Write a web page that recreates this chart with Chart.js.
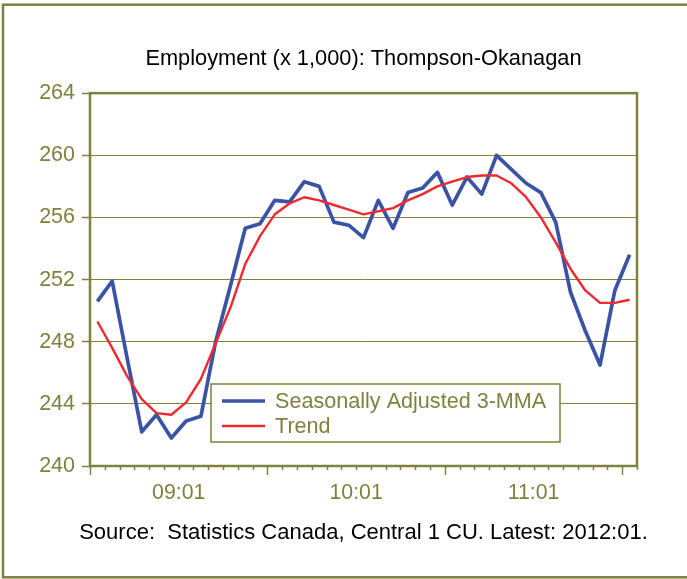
<!DOCTYPE html>
<html>
<head>
<meta charset="utf-8">
<script src="https://cdn.jsdelivr.net/npm/chart.js@4.4.1/dist/chart.umd.min.js"></script>
<style>
  html, body { margin: 0; padding: 0; background: #fff; }
  #wrap { width: 687px; height: 579px; }
</style>
</head>
<body>
<div id="wrap"><canvas id="chart" width="687" height="579"></canvas></div>
<script>
// Meses (categorías) y series
const months = [
    '09:01', '09:02', '09:03', '09:04', '09:05', '09:06', '09:07', '09:08', '09:09', '09:10', '09:11', '09:12',
    '10:01', '10:02', '10:03', '10:04', '10:05', '10:06', '10:07', '10:08', '10:09', '10:10', '10:11', '10:12',
    '11:01', '11:02', '11:03', '11:04', '11:05', '11:06', '11:07', '11:08', '11:09', '11:10', '11:11', '11:12',
    '12:01'
];
const yearLabels = ['09:01', '10:01', '11:01'];

const seasAdj3mma = [250.6, 251.9, 247.0, 242.2, 243.3, 241.8, 242.9, 243.2, 248.0, 251.6, 255.3, 255.6,
    257.1, 257.0, 258.3, 258.0, 255.7, 255.5, 254.7, 257.1, 255.3, 257.6, 257.9, 258.9,
    256.8, 258.6, 257.5, 260.0, 259.1, 258.2, 257.6, 255.7, 251.2, 248.7, 246.5, 251.3,
    253.6];
const trend = [249.3, 247.6, 245.8, 244.3, 243.4, 243.3, 244.1, 245.6, 247.9, 250.2, 253.0, 254.8,
    256.2, 256.9, 257.3, 257.1, 256.8, 256.5, 256.2, 256.4, 256.6, 257.1, 257.5, 258.0,
    258.3, 258.6, 258.7, 258.7, 258.2, 257.3, 256.0, 254.4, 252.7, 251.3, 250.5, 250.5,
    250.7];

const yMin = 240, yMax = 264, yStep = 4;

const footerText = 'Source:  Statistics Canada, Central 1 CU. Latest: 2012:01.';

const OLIVE = '#80803f';
const FONT = "'Liberation Sans', Arial, sans-serif";

function toPoints(arr) {
    return arr.map(function(v, i) { return { x: i, y: v }; });
}

// Marco exterior, borde del área de trazado, marcas del eje X, leyenda y fuente
const framePlugin = {
    id: 'frame',
    beforeDraw: function(chart) {
        const ctx = chart.ctx;
        ctx.save();
        ctx.strokeStyle = OLIVE;
        ctx.lineWidth = 2.5;
        ctx.strokeRect(3, 4.7, 720, 572.6);
        ctx.restore();
    },
    afterDraw: function(chart) {
        const ctx = chart.ctx;
        const ca = chart.chartArea;
        const xs = chart.scales.x;
        ctx.save();
        // marcas del eje X (una por mes, largas cada año)
        ctx.strokeStyle = OLIVE;
        ctx.lineWidth = 1.5;
        for (let k = 0; k <= months.length; k++) {
            const px = Math.round(xs.getPixelForValue(k - 0.5)) + 0.5;
            const len = (k % 12 === 0) ? 9 : 4;
            ctx.beginPath();
            ctx.moveTo(px, ca.bottom);
            ctx.lineTo(px, ca.bottom + len);
            ctx.stroke();
        }
        // borde del área
        ctx.lineWidth = 2.5;
        ctx.strokeRect(ca.left, ca.top, ca.right - ca.left, ca.bottom - ca.top);

        // leyenda
        const bx = ca.left + 121, by = ca.bottom - 82, bw = 349, bh = 58;
        ctx.fillStyle = '#fff';
        ctx.fillRect(bx, by, bw, bh);
        ctx.lineWidth = 1.5;
        ctx.strokeRect(bx, by, bw, bh);
        ctx.font = '21.6px ' + FONT;
        ctx.textBaseline = 'middle';
        chart.data.datasets.forEach(function(ds, i) {
            const ly = by + 17 + i * 25;
            ctx.strokeStyle = ds.borderColor;
            ctx.lineWidth = ds.borderWidth;
            ctx.beginPath();
            ctx.moveTo(bx + 11, ly);
            ctx.lineTo(bx + 54, ly);
            ctx.stroke();
            ctx.fillStyle = OLIVE;
            ctx.fillText(ds.label, bx + 64, ly + 1);
        });

        // fuente
        ctx.fillStyle = '#000';
        ctx.font = '22px ' + FONT;
        ctx.textAlign = 'center';
        ctx.fillText(footerText, (ca.left + ca.right) / 2, ca.bottom + 67);
        ctx.restore();
    }
};

new Chart(document.getElementById('chart'), {
    type: 'line',
    data: {
        datasets: [{
            label: 'Seasonally Adjusted 3-MMA',
            data: toPoints(seasAdj3mma),
            borderColor: '#3a53a4',
            borderWidth: 3.7,
            pointRadius: 0,
            tension: 0,
            borderJoinStyle: 'round',
            order: 1
        }, {
            label: 'Trend',
            data: toPoints(trend),
            borderColor: '#ef2a2e',
            borderWidth: 2.4,
            pointRadius: 0,
            tension: 0,
            borderJoinStyle: 'round',
            order: 0
        }]
    },
    options: {
        responsive: false,
        animation: false,
        layout: { padding: { top: 46, right: 50, bottom: 60, left: 0 } },
        plugins: {
            legend: { display: false },
            tooltip: { enabled: false },
            title: {
                display: true,
                text: 'Employment (x 1,000): Thompson-Okanagan',
                color: '#000',
                fullSize: false,
                font: { family: FONT, size: 21.8, weight: 'normal' },
                padding: { top: 0, bottom: 21 }
            }
        },
        scales: {
            x: {
                type: 'linear',
                min: -0.5,
                max: months.length - 0.5,
                grid: { display: false, drawTicks: false },
                border: { display: false },
                afterBuildTicks: function(axis) {
                    axis.ticks = yearLabels.map(function(l) {
                        return { value: months.indexOf(l) + 5.5 };
                    });
                },
                afterFit: function(axis) { axis.height = 53; },
                ticks: {
                    color: OLIVE,
                    font: { family: FONT, size: 21.3 },
                    padding: 14,
                    maxRotation: 0,
                    autoSkip: false,
                    callback: function(v, i) { return yearLabels[i]; }
                }
            },
            y: {
                min: yMin,
                max: yMax,
                border: { display: false },
                grid: { color: OLIVE, lineWidth: 1, tickLength: 8, tickColor: OLIVE, tickWidth: 1.5 },
                afterFit: function(axis) { axis.width = 90; },
                ticks: {
                    stepSize: yStep,
                    color: OLIVE,
                    font: { family: FONT, size: 21.5 },
                    padding: 7
                }
            }
        }
    },
    plugins: [framePlugin]
});
</script>
</body>
</html>
